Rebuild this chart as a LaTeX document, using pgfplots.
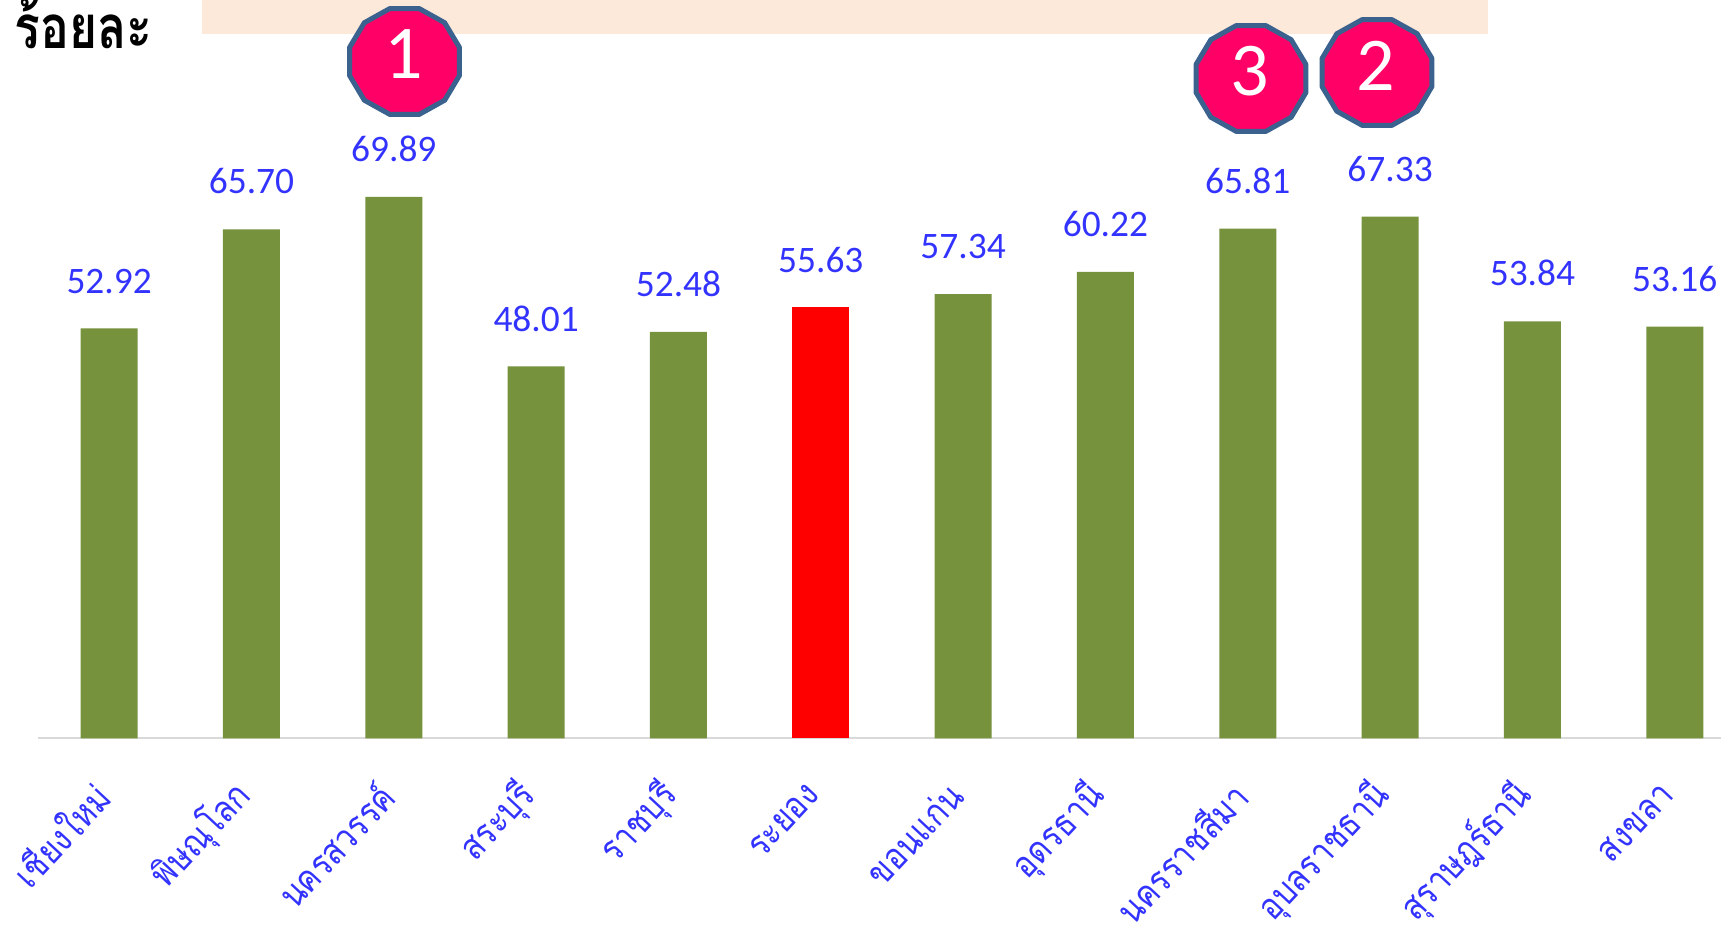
\documentclass[border=0pt]{standalone}
\usepackage{pgfplots}
\pgfplotsset{compat=1.18}
\usepackage{fontspec}
\setmainfont[Script=Thai]{Loma}
\newfontfamily\badgefont{Carlito}
\newfontfamily\thainarrow[Script=Thai,FakeStretch=0.86]{Loma}
\definecolor{olivebar}{HTML}{76923C}
\definecolor{bluetxt}{HTML}{3333FF}
\definecolor{peach}{HTML}{FDE9D9}
\definecolor{badgefill}{HTML}{FF0066}
\definecolor{badgeline}{HTML}{3B618F}
\pgfplotstableread{
x y
0 52.92
1 65.70
2 69.89
3 48.01
4 52.48
6 57.34
7 60.22
8 65.81
9 67.33
10 53.84
11 53.16
}\greenbars
\pgfplotstableread{
x y
5 55.63
}\redbars
\newcommand{\badge}[3]{%
  \begin{scope}[shift={(#1*0.5pt,462.5pt-#2*0.5pt)}]
    \draw[badgeline,fill=badgefill,line width=2.5pt,line join=round]
      (15:28.4pt and 27.4pt)--(45:28.4pt and 27.4pt)--(75:28.4pt and 27.4pt)--(105:28.4pt and 27.4pt)--(135:28.4pt and 27.4pt)--(165:28.4pt and 27.4pt)--(195:28.4pt and 27.4pt)--(225:28.4pt and 27.4pt)--(255:28.4pt and 27.4pt)--(285:28.4pt and 27.4pt)--(315:28.4pt and 27.4pt)--(345:28.4pt and 27.4pt)--cycle;
    \node[white,font=\badgefont\fontsize{38pt}{38pt}\selectfont,yshift=3.5pt,xshift=-0.5pt] at (0,0) {#3};
  \end{scope}}
\begin{document}
\begin{tikzpicture}[x=1pt,y=1pt]
\path[use as bounding box] (0,0) rectangle (860.5pt,462.5pt);
\fill[peach] (101pt,445.5pt) rectangle (744pt,462.5pt);
\begin{axis}[
  at={(19pt,93.25pt)},anchor=south west,
  scale only axis,
  width=841.5pt,height=369.25pt,
  xmin=-0.5,xmax=11.325,
  ymin=0,ymax=95.3,
  clip=false,
  axis y line=none,
  axis x line*=bottom,
  x axis line style={draw=black!15,line width=1pt,-},
  xtick={0,...,11},
  major tick length=0pt,
  xticklabels={เชียงใหม่,พิษณุโลก,นครสวรรค์,สระบุรี,ราชบุรี,ระยอง,ขอนแก่น,อุดรธานี,นครราชสีมา,อุบลราชธานี,สุราษฎร์ธานี,สงขลา},
  xticklabel style={rotate=47,anchor=east,text=bluetxt,font=\thainarrow\fontsize{18.3pt}{18.3pt}\selectfont,yshift=-14.7pt,xshift=-17.5pt},
  ybar,
  bar width=28.5pt,
  nodes near coords,
  every node near coord/.append style={text=bluetxt,font=\badgefont\fontsize{18.7pt}{18.7pt}\selectfont,yshift=14pt,/pgf/number format/fixed,/pgf/number format/fixed zerofill,/pgf/number format/precision=2,/pgf/number format/assume math mode=true},
]
\addplot[ybar,bar shift=0pt,fill=olivebar,draw=none] table[x=x,y=y] {\greenbars};
\addplot[ybar,bar shift=0pt,fill=red,draw=none] table[x=x,y=y] {\redbars};
\end{axis}
\node[anchor=base west,inner sep=0pt,yscale=1.25,transform shape,font=\fontsize{24pt}{24pt}\selectfont\bfseries] at (7pt,438pt) {ร้อยละ};
\badge{404.5}{61.5}{1}
\badge{1377}{72.5}{2}
\badge{1251}{78.5}{3}
\end{tikzpicture}
\end{document}
